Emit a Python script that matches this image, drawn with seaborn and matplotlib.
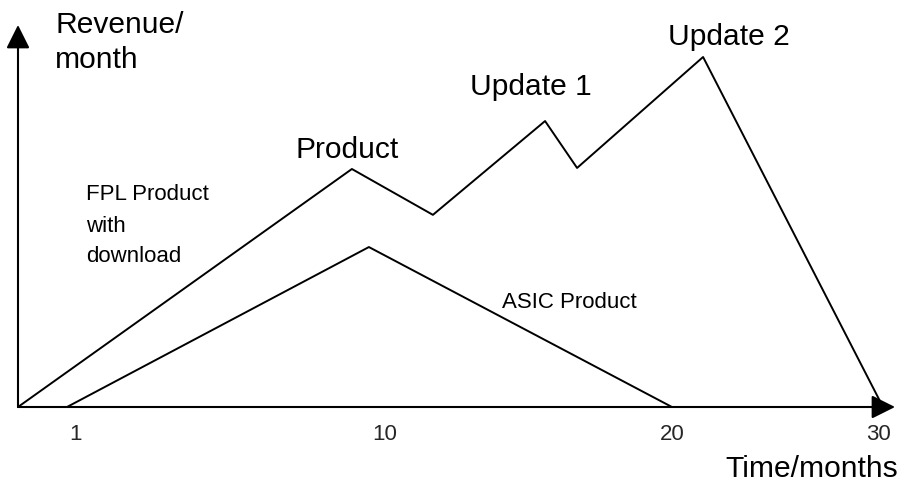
import matplotlib
matplotlib.use("Agg")
import matplotlib.pyplot as plt
import seaborn as sns
import pandas as pd

# ---- data (months, revenue in arbitrary units), read from the schematic ----
fpl_months = [0.0, 11.58, 14.39, 18.28, 19.39, 23.76, 30.0]
fpl_revenue = [0.0, 6.80, 5.49, 8.17, 6.83, 10.0, 0.0]
asic_months = [1.70, 12.17, 22.68]
asic_revenue = [0.0, 4.57, 0.0]
tick_labels = ["1", "10", "20", "30"]
tick_positions = [2.0, 12.73, 22.68, 29.83]

sns.set_theme(style="white")
plt.rcParams['font.family'] = ['Liberation Sans', 'DejaVu Sans']

W, H = 906, 483
fig = plt.figure(figsize=(W / 100, H / 100), dpi=100)
ax = fig.add_axes([0, 0, 1, 1])
ax.set_axis_off()

# pixel layout of the schematic
ox, oy = 18.0, 407.0          # origin in pixels
sx = (883 - ox) / 30.0        # px per month
sy = 35.0                     # px per revenue unit
ax.set_xlim((0 - ox) / sx, (W - ox) / sx)
ax.set_ylim((oy - H) / sy, oy / sy)

def fig_px(x, y):
    return x / W, 1 - y / H

df_fpl = pd.DataFrame({"month": fpl_months, "revenue": fpl_revenue})
df_asic = pd.DataFrame({"month": asic_months, "revenue": asic_revenue})
sns.lineplot(data=df_fpl, x="month", y="revenue", sort=False, estimator=None,
             color="black", lw=1.4, ax=ax)
sns.lineplot(data=df_asic, x="month", y="revenue", sort=False, estimator=None,
             color="black", lw=1.4, ax=ax)

# axes with arrows
arrow_kw = dict(arrowstyle="-|>", color="black", lw=1.5, shrinkA=0, shrinkB=0,
                mutation_scale=36)
ax.annotate("", xy=((895 - ox) / sx, 0), xytext=(0, 0), arrowprops=arrow_kw)
ax.annotate("", xy=(0, (oy - 25) / sy), xytext=(0, 0), arrowprops=arrow_kw)

big = 21.6
small = 16

def txt(x, y, s, size, ha="left"):
    fx, fy = fig_px(x, y)
    fig.text(fx, fy, s, fontsize=size, ha=ha, va="baseline", color="black")

txt(55, 33, "Revenue/", big)
txt(55, 68, "month", big)
txt(295, 158, "Product", big)
txt(470, 95, "Update 1", big)
txt(668, 45, "Update 2", big)
txt(725, 477, "Time/months", big)
txt(502, 308, "ASIC Product", small)
txt(86, 200, "FPL Product", small)
txt(86, 232, "with", small)
txt(86, 262, "download", small)

for pos, lab in zip(tick_positions, tick_labels):
    ax.text(pos, (oy - 440) / sy, lab, fontsize=small, ha="center", va="baseline")

fig.savefig("out.png", dpi=100, facecolor="white")
